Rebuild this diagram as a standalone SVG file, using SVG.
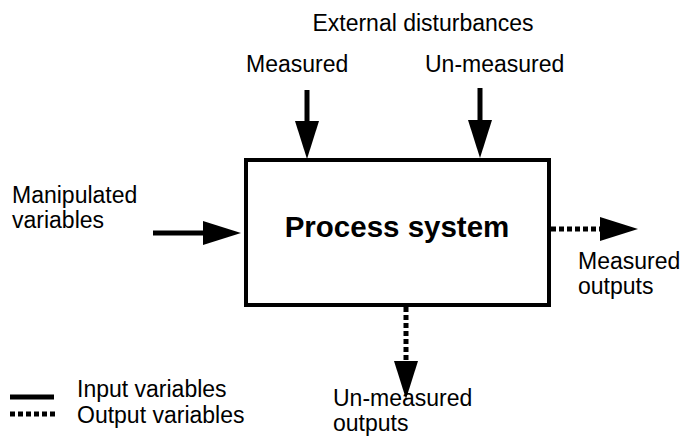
<svg xmlns="http://www.w3.org/2000/svg" width="685" height="436" viewBox="0 0 685 436">
<style>
text{font-family:"Liberation Sans",Arial,sans-serif;font-size:23px;fill:#000}
.title{font-weight:bold;font-size:29.5px}
.solid{stroke:#000;stroke-width:5;fill:none}
.dot{stroke:#000;stroke-width:5;fill:none;stroke-dasharray:5 3}
</style>
<defs>
<marker id="head" markerUnits="userSpaceOnUse" viewBox="0 0 38 24" markerWidth="38" markerHeight="24" refX="0" refY="12" orient="auto">
<path d="M0,0 L38,12 L0,24 Z" fill="#000"/>
</marker>
</defs>
<rect width="685" height="436" fill="#fff"/>
<g id="process">
<rect x="246" y="160" width="303" height="145" fill="none" stroke="#000" stroke-width="4"/>
<text class="title" x="397" y="237" text-anchor="middle">Process system</text>
</g>
<g id="disturbances">
<text x="423" y="31" text-anchor="middle">External disturbances</text>
</g>
<g id="measured-dist">
<text x="246" y="72">Measured</text>
</g>
<g id="unmeasured-dist">
<text x="425" y="72">Un-measured</text>
</g>
<g id="manipulated">
<text x="12" y="203">Manipulated</text>
<text x="12" y="228">variables</text>
</g>
<g id="measured-out">
<text x="578" y="269">Measured</text>
<text x="578" y="294">outputs</text>
</g>
<g id="unmeasured-out">
<text x="333" y="406">Un-measured</text>
<text x="333" y="431">outputs</text>
</g>
<g id="legend">
<line x1="10" y1="397" x2="54" y2="397" class="solid" stroke-width="4"/>
<text x="77" y="397">Input variables</text>
<line x1="10" y1="414" x2="55" y2="414" class="dot" stroke-width="3" stroke-dasharray="4 4"/>
<text x="77" y="423">Output variables</text>
</g>
<g id="connectors">
<line x1="307" y1="90" x2="307" y2="121" class="solid" marker-end="url(#head)"/>
<line x1="480" y1="88" x2="480" y2="120" class="solid" marker-end="url(#head)"/>
<line x1="153" y1="233" x2="203" y2="233" class="solid" marker-end="url(#head)"/>
<line x1="551" y1="229" x2="600" y2="229" class="dot" marker-end="url(#head)"/>
<line x1="406" y1="307" x2="406" y2="361" class="dot" marker-end="url(#head)"/>
</g>
</svg>
